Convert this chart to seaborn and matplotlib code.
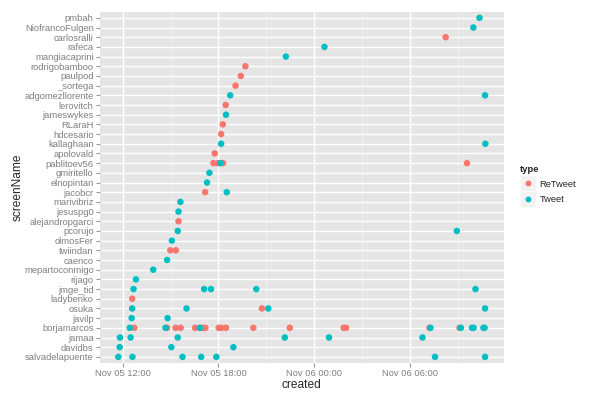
import pandas as pd
import matplotlib.pyplot as plt
import matplotlib.dates as mdates
import seaborn as sns
from matplotlib.lines import Line2D

# screen names, top to bottom as in the chart
screen_names = ["pmbah", "NiofrancoFulgen", "carlosralli", "rafeca", "mangiacaprini",
                "rodrigobamboo", "paulpod", "_sortega", "adgomezllorente", "lerovitch",
                "jameswykes", "RLaraH", "hdcesario", "kallaghaan", "apolovald",
                "pablitoev56", "gmiritello", "elnopintan", "jacobcr", "marivibriz",
                "jesuspg0", "alejandropgarci", "pcorujo", "olmosFer", "twiindan",
                "caenco", "mepartoconmigo", "rijago", "jmge_tid", "ladybenko",
                "osuka", "javilp", "borjamarcos", "jamaa", "davidbs", "salvadelapuente"]

rt_user = ["carlosralli", "rodrigobamboo", "paulpod", "_sortega", "lerovitch", "RLaraH",
           "hdcesario", "apolovald",
           "pablitoev56", "pablitoev56", "pablitoev56", "pablitoev56",
           "jacobcr", "alejandropgarci", "twiindan", "twiindan", "ladybenko", "osuka",
           "borjamarcos", "borjamarcos", "borjamarcos", "borjamarcos", "borjamarcos",
           "borjamarcos", "borjamarcos", "borjamarcos", "borjamarcos", "borjamarcos",
           "borjamarcos", "borjamarcos", "borjamarcos", "borjamarcos", "borjamarcos",
           "borjamarcos"]
rt_created = ["2012-11-06 08:13", "2012-11-05 19:41", "2012-11-05 19:24", "2012-11-05 19:04",
              "2012-11-05 18:27", "2012-11-05 18:16", "2012-11-05 18:10", "2012-11-05 17:46",
              "2012-11-05 17:41", "2012-11-05 17:57", "2012-11-05 18:17", "2012-11-06 09:33",
              "2012-11-05 17:10", "2012-11-05 15:30", "2012-11-05 14:59", "2012-11-05 15:20",
              "2012-11-05 12:36", "2012-11-05 20:43",
              "2012-11-05 12:44", "2012-11-05 14:47", "2012-11-05 15:19", "2012-11-05 15:38",
              "2012-11-05 16:32", "2012-11-05 17:00", "2012-11-05 17:11", "2012-11-05 18:01",
              "2012-11-05 18:11", "2012-11-05 18:28", "2012-11-05 20:11", "2012-11-05 22:28",
              "2012-11-06 01:50", "2012-11-06 01:59", "2012-11-06 07:12", "2012-11-06 09:05"]

tw_user = ["pmbah", "NiofrancoFulgen", "rafeca", "mangiacaprini",
           "adgomezllorente", "adgomezllorente", "jameswykes", "kallaghaan", "kallaghaan",
           "pablitoev56", "gmiritello", "elnopintan", "jacobcr", "marivibriz", "jesuspg0",
           "pcorujo", "pcorujo", "olmosFer", "caenco", "mepartoconmigo", "rijago",
           "jmge_tid", "jmge_tid", "jmge_tid", "jmge_tid", "jmge_tid",
           "osuka", "osuka", "osuka", "osuka", "javilp", "javilp",
           "borjamarcos", "borjamarcos", "borjamarcos", "borjamarcos", "borjamarcos",
           "borjamarcos", "borjamarcos", "borjamarcos", "borjamarcos",
           "jamaa", "jamaa", "jamaa", "jamaa", "jamaa", "jamaa",
           "davidbs", "davidbs", "davidbs",
           "salvadelapuente", "salvadelapuente", "salvadelapuente", "salvadelapuente",
           "salvadelapuente", "salvadelapuente", "salvadelapuente"]
tw_created = ["2012-11-06 10:20", "2012-11-06 09:57", "2012-11-06 00:38", "2012-11-05 22:13",
              "2012-11-05 18:44", "2012-11-06 10:41", "2012-11-05 18:28", "2012-11-05 18:10",
              "2012-11-06 10:42",
              "2012-11-05 18:07", "2012-11-05 17:26", "2012-11-05 17:17", "2012-11-05 18:31",
              "2012-11-05 15:37", "2012-11-05 15:30",
              "2012-11-05 15:27", "2012-11-06 08:55", "2012-11-05 15:05", "2012-11-05 14:47",
              "2012-11-05 13:55", "2012-11-05 12:50",
              "2012-11-05 12:41", "2012-11-05 17:06", "2012-11-05 17:32", "2012-11-05 20:22",
              "2012-11-06 10:05",
              "2012-11-05 12:36", "2012-11-05 16:00", "2012-11-05 21:07", "2012-11-06 10:41",
              "2012-11-05 12:34", "2012-11-05 14:49",
              "2012-11-05 12:27", "2012-11-05 14:41", "2012-11-05 16:50", "2012-11-06 07:16",
              "2012-11-06 09:10", "2012-11-06 09:52", "2012-11-06 09:58", "2012-11-06 10:35",
              "2012-11-06 10:39",
              "2012-11-05 11:50", "2012-11-05 12:30", "2012-11-05 15:27", "2012-11-05 22:09",
              "2012-11-06 00:55", "2012-11-06 06:46",
              "2012-11-05 11:49", "2012-11-05 15:03", "2012-11-05 18:56",
              "2012-11-05 11:44", "2012-11-05 12:37", "2012-11-05 15:45", "2012-11-05 16:55",
              "2012-11-05 17:52", "2012-11-06 07:33", "2012-11-06 10:41"]

type_labels = ["ReTweet", "Tweet"]
type_colors = ["#F8766D", "#00BFC4"]

df = pd.concat([
    pd.DataFrame({"screenName": rt_user, "created": rt_created, "type": "ReTweet"}),
    pd.DataFrame({"screenName": tw_user, "created": tw_created, "type": "Tweet"}),
])
df["created"] = pd.to_datetime(df["created"])
# sort so the category axis registers names bottom-up
df["pos"] = df["screenName"].map({n: i for i, n in enumerate(screen_names[::-1])})
df = df.sort_values(["pos"], kind="stable")

sns.set_style("darkgrid", {"axes.facecolor": "#E5E5E5", "grid.color": "white"})
plt.rcParams["font.family"] = ["Liberation Sans", "DejaVu Sans"]

fig = plt.figure(figsize=(5.98, 3.95), dpi=100)
ax = fig.add_axes([0.1672, 0.0818, 0.8423 - 0.1672, 0.9696 - 0.0818])

sns.scatterplot(data=df, x="created", y="screenName", hue="type",
                hue_order=type_labels, palette=type_colors,
                s=22, linewidth=0, ax=ax, legend=False, zorder=3)

lo, hi = df["created"].min(), df["created"].max()
pad = (hi - lo) * 0.05
ax.set_xlim(lo - pad, hi + pad)
ax.set_ylim(-0.6, len(screen_names) - 0.4)

ax.xaxis.set_major_locator(mdates.HourLocator(byhour=[0, 6, 12, 18]))
ax.xaxis.set_minor_locator(mdates.HourLocator(byhour=[3, 9, 15, 21]))
ax.xaxis.set_major_formatter(mdates.DateFormatter("%b %d %H:%M"))

ax.grid(which="major", color="white", linewidth=1.0)
ax.grid(which="minor", axis="x", color="#F2F2F2", linewidth=0.5)
ax.set_axisbelow(True)
for sp in ax.spines.values():
    sp.set_visible(False)

ax.tick_params(axis="both", which="major", length=3, width=0.6, color="#7F7F7F",
               labelcolor="#7F7F7F", labelsize=6.75, pad=1.5, bottom=True, left=True)
ax.tick_params(axis="x", which="minor", length=0)

ax.set_xlabel("created", fontsize=8.6, labelpad=0.5)
ax.set_ylabel("screenName", fontsize=8.6, labelpad=0.5)

handles = [(Line2D([], [], marker="s", ms=11.5, color="#F2F2F2", mec="white", mew=0.5, ls=""),
            Line2D([], [], marker="o", ms=3.2, color=c, ls=""))
           for c in type_colors]
leg = fig.legend(handles, type_labels, loc="center left", bbox_to_anchor=(0.862, 0.532),
                 frameon=False, fontsize=6.75, title="type",
                 title_fontproperties={"weight": "bold", "size": 6.75},
                 handlelength=1.7, handleheight=1.2, handletextpad=0.35,
                 labelspacing=0.55, borderpad=0, alignment="left")

fig.savefig("out.png", dpi=100)
